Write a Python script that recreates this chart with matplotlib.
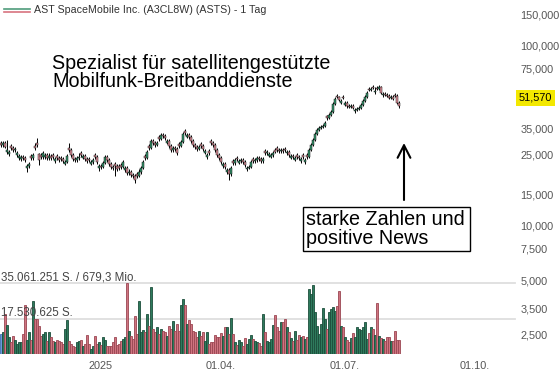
import matplotlib
matplotlib.use("Agg")
import matplotlib.pyplot as plt
import numpy as np
import pandas as pd
from matplotlib.patches import Rectangle, FancyArrowPatch, ArrowStyle
from matplotlib.transforms import blended_transform_factory
from matplotlib.ticker import NullLocator

plt.rcParams['font.family'] = ['Liberation Sans', 'DejaVu Sans']

# ---------------- data ----------------
title = "AST SpaceMobile Inc. (A3CL8W) (ASTS) - 1 Tag"
headline = "Spezialist für satellitengestützte\nMobilfunk-Breitbanddienste"
note = "starke Zahlen und\npositive News"

holidays = ['2024-11-28', '2024-12-25', '2025-01-01', '2025-01-09', '2025-01-20',
            '2025-02-17', '2025-04-18', '2025-05-26', '2025-06-19', '2025-07-04']
first_day = '2024-10-21'
x_tick_dates = ['2025-01-01', '2025-04-01', '2025-07-01', '2025-10-01']
x_tick_labels = ['2025', '01.04.', '01.07.', '01.10.']

price_ticks = [150, 100, 75, 35, 25, 15, 10, 7.5, 5, 3.5, 2.5]
last_price = 51.57

vol_max = 35.061251      # Mio. Stück
vol_half = 17.530625
vol_max_label = "35.061.251 S. / 679,3 Mio."
vol_half_label = "17.530.625 S."

opens = [
29.0, 28.2, 28.9, 25.7, 25.1, 27.9, 27.1, 26.4, 24.8, 24.0,
23.7, 24.2, 23.9, 21.0, 21.5, 24.6, 23.9, 27.9, 29.0, 25.0,
24.9, 24.2, 24.2, 24.8, 23.9, 24.5, 24.8, 23.0, 24.4, 23.9,
24.0, 23.5, 22.2, 22.7, 27.2, 26.4, 24.8, 23.5, 23.2, 23.9,
25.4, 24.0, 24.5, 23.5, 23.7, 22.2, 22.7, 24.8, 24.2, 21.0,
21.5, 21.3, 22.4, 24.2, 23.2, 22.1, 21.3, 22.0, 21.5, 21.5,
21.8, 21.3, 20.5, 21.0, 19.7, 20.0, 19.2, 19.0, 19.5, 19.0,
20.0, 21.0, 24.5, 23.9, 27.8, 27.1, 29.7, 28.9, 28.2, 31.3,
30.5, 32.1, 31.6, 29.0, 29.7, 27.8, 26.4, 27.1, 26.8, 28.6,
27.8, 29.3, 33.8, 31.3, 32.1, 31.2, 29.7, 28.2, 27.5, 26.8,
28.5, 27.8, 25.5, 24.2, 26.0, 29.7, 28.9, 28.2, 26.4, 24.8,
23.9, 21.6, 22.1, 20.0, 20.5, 19.5, 23.0, 22.4, 24.0, 22.5,
23.0, 23.2, 22.7, 20.6, 21.0, 21.3, 23.5, 23.0, 23.2, 23.9,
23.5, 23.0, 26.0, 25.4, 24.6, 24.3, 24.8, 26.3, 27.0, 26.4,
26.1, 26.4, 26.9, 25.3, 25.8, 24.0, 24.5, 23.4, 24.7, 24.2,
23.0, 24.7, 22.7, 24.8, 24.2, 26.4, 28.2, 30.1, 32.5, 34.2,
35.1, 35.5, 36.0, 40.6, 39.8, 41.4, 43.0, 47.6, 53.0, 52.1,
48.5, 52.4, 47.3, 48.2, 46.4, 45.8, 46.4, 43.4, 44.1, 44.7,
45.3, 47.0, 49.5, 52.1, 57.9, 56.9, 59.3, 55.3, 58.6, 57.7,
59.2, 53.3, 54.1, 53.4, 52.7, 51.4, 52.1, 53.5, 52.7, 48.2,
]
highs = [
29.8, 29.6, 29.5, 30.1, 26.5, 28.6, 27.8, 27.5, 26.1, 25.1,
24.8, 24.8, 24.5, 22.1, 22.7, 25.2, 25.5, 28.9, 30.8, 25.6,
25.5, 26.0, 25.4, 25.4, 25.6, 25.1, 25.4, 24.1, 25.0, 24.5,
24.6, 24.1, 23.3, 25.1, 28.9, 27.0, 25.4, 24.1, 24.5, 25.3,
26.2, 25.1, 25.1, 24.1, 24.3, 23.3, 23.8, 25.4, 24.8, 22.1,
22.0, 23.0, 24.8, 24.8, 23.8, 22.7, 21.9, 22.6, 22.0, 22.0,
22.4, 23.3, 21.6, 21.5, 20.6, 20.5, 19.7, 19.5, 20.0, 20.6,
21.6, 23.3, 25.2, 26.5, 28.5, 30.5, 30.4, 29.6, 29.7, 32.0,
33.0, 33.0, 32.4, 30.5, 30.4, 28.4, 27.8, 27.8, 27.4, 29.4,
30.1, 33.3, 34.8, 33.0, 32.9, 31.9, 30.4, 28.9, 28.2, 28.2,
29.2, 28.5, 26.8, 25.5, 26.7, 30.5, 29.6, 28.9, 27.0, 25.4,
24.5, 22.7, 22.7, 21.1, 21.0, 21.6, 23.6, 23.8, 24.6, 23.6,
23.9, 23.8, 23.3, 21.6, 21.9, 23.3, 24.1, 23.9, 24.5, 24.5,
24.1, 24.2, 26.7, 26.5, 25.8, 25.5, 26.1, 27.0, 27.7, 27.1,
27.1, 27.1, 27.6, 26.5, 26.4, 25.1, 25.1, 24.5, 25.3, 24.8,
24.1, 25.3, 23.8, 25.4, 27.0, 28.9, 30.8, 33.3, 35.0, 36.0,
36.4, 36.9, 38.3, 41.6, 42.4, 44.0, 48.7, 52.0, 54.2, 53.0,
50.6, 53.6, 49.3, 49.2, 47.5, 47.5, 47.5, 45.2, 45.8, 46.4,
48.1, 50.7, 53.3, 56.1, 59.2, 59.0, 60.6, 59.5, 59.9, 60.6,
60.2, 55.3, 55.3, 54.6, 53.9, 53.3, 53.3, 54.7, 53.9, 49.2,
]
lows = [
27.5, 27.6, 27.0, 25.2, 24.5, 26.4, 25.8, 25.8, 24.3, 23.4,
23.1, 23.3, 22.6, 20.0, 21.0, 23.3, 23.4, 26.5, 27.6, 21.8,
23.6, 23.7, 23.7, 23.3, 23.4, 23.3, 23.6, 22.5, 23.3, 22.7,
23.0, 22.5, 21.7, 22.3, 25.8, 24.3, 23.0, 22.6, 22.7, 23.4,
24.2, 23.5, 23.0, 22.5, 22.7, 21.7, 22.2, 23.6, 22.2, 20.3,
20.7, 20.9, 22.0, 22.7, 21.6, 20.8, 20.5, 19.0, 20.2, 20.5,
20.8, 20.9, 20.0, 19.2, 19.2, 18.7, 18.5, 17.4, 18.4, 18.6,
19.5, 20.6, 23.3, 23.5, 26.5, 26.7, 28.3, 27.6, 27.7, 29.8,
30.0, 31.0, 30.2, 28.4, 27.2, 25.8, 25.9, 26.2, 24.8, 27.1,
27.3, 28.8, 32.2, 30.7, 30.5, 29.0, 27.6, 26.9, 26.2, 26.3,
27.2, 26.2, 25.0, 23.7, 24.8, 28.2, 27.6, 25.8, 24.2, 23.3,
22.1, 21.1, 20.8, 19.5, 18.0, 19.0, 21.9, 21.9, 23.0, 22.0,
22.5, 22.2, 21.3, 20.1, 20.6, 20.9, 22.5, 22.5, 22.7, 23.0,
22.5, 22.5, 24.8, 24.8, 24.1, 23.8, 24.3, 25.3, 25.9, 25.6,
25.6, 25.6, 25.9, 24.8, 24.3, 23.5, 23.7, 22.9, 23.7, 23.4,
22.5, 23.7, 22.2, 23.5, 23.8, 26.0, 27.8, 29.6, 32.0, 33.6,
34.5, 35.0, 35.4, 39.0, 39.2, 40.8, 42.5, 47.0, 51.2, 49.2,
47.6, 50.5, 46.4, 45.5, 45.0, 45.0, 44.5, 42.6, 43.4, 44.0,
44.6, 46.4, 48.8, 51.4, 55.9, 56.0, 57.4, 54.4, 56.7, 56.8,
53.9, 52.4, 52.5, 51.8, 50.5, 50.6, 49.9, 51.8, 47.4, 45.4,
]
closes = [
28.2, 28.9, 27.5, 26.4, 25.8, 27.1, 26.4, 26.8, 25.4, 24.5,
24.2, 23.9, 23.2, 21.5, 22.1, 23.9, 24.8, 27.1, 28.2, 23.2,
24.2, 25.4, 24.8, 23.9, 24.5, 23.9, 24.2, 23.5, 23.9, 23.2,
23.5, 23.0, 22.7, 24.5, 26.4, 24.8, 23.5, 23.2, 23.9, 24.2,
24.8, 24.5, 23.5, 23.0, 23.2, 22.7, 23.2, 24.2, 22.7, 21.5,
21.3, 22.4, 24.2, 23.2, 22.1, 21.3, 21.0, 21.5, 20.7, 21.0,
21.3, 22.7, 21.0, 19.7, 20.0, 19.2, 19.0, 18.0, 19.0, 20.0,
21.0, 22.7, 23.9, 25.8, 27.1, 29.7, 28.9, 28.2, 28.9, 30.5,
32.1, 31.6, 30.8, 29.7, 27.8, 26.4, 27.1, 26.8, 25.4, 27.8,
29.3, 32.5, 32.9, 32.1, 31.2, 29.7, 28.2, 27.5, 26.8, 27.5,
27.8, 26.8, 26.1, 24.8, 25.4, 28.9, 28.2, 26.4, 24.8, 23.9,
22.7, 22.1, 21.3, 20.5, 19.5, 21.0, 22.4, 23.2, 23.5, 23.0,
23.2, 22.7, 21.8, 21.0, 21.3, 22.7, 23.0, 23.2, 23.9, 23.5,
23.0, 23.5, 25.4, 25.8, 25.1, 24.8, 25.4, 25.8, 26.4, 26.1,
26.4, 26.1, 26.4, 25.8, 24.8, 24.5, 24.2, 23.9, 24.2, 23.9,
23.5, 24.2, 23.2, 24.2, 26.4, 28.2, 30.1, 32.5, 34.2, 35.1,
35.5, 36.0, 37.4, 39.8, 41.4, 43.0, 47.6, 50.8, 52.1, 50.1,
49.5, 51.4, 48.2, 46.4, 45.8, 46.4, 45.3, 44.1, 44.7, 45.3,
47.0, 49.5, 52.1, 54.8, 56.9, 57.7, 58.4, 56.2, 57.7, 59.2,
54.8, 54.1, 53.4, 52.7, 51.4, 52.1, 50.8, 52.7, 48.2, 46.4,
]
volumes = [  # Mio. Stück
10, 10.7, 19.8, 14.3, 8.6, 5.8, 9, 7, 5, 6,
6, 9.9, 24, 7, 10.7, 7, 26.4, 17.3, 17.3, 14,
9, 10, 10.7, 6.6, 10.7, 8.2, 6.6, 5.8, 7, 6.6,
5.8, 5, 12.4, 17, 6.6, 5, 4, 3.3, 6, 6.6,
7, 4, 5, 9.6, 5, 2.5, 4, 9, 5, 5.8,
4.5, 8.2, 7, 4, 4, 4, 5.8, 8.6, 4.6, 5,
6.6, 7.4, 8.2, 35.06, 11.5, 9, 7.4, 19, 10, 26.4,
10.7, 11.9, 10.7, 19.8, 14, 33, 12.4, 10.7, 13.5, 10,
12.4, 11.5, 10.7, 9, 14, 12.4, 16.5, 11.5, 14.8, 11.5,
24, 27, 24, 14.8, 16.8, 15, 11.5, 10.7, 8.2, 11.5,
9, 10.7, 6.6, 10.7, 5, 5.8, 5.8, 9.6, 8.6, 8.6,
10.2, 9.0, 13.2, 13.2, 9.9, 17.8, 9.9, 5.8, 4.6, 7,
6, 4, 7.9, 5, 7.4, 9.6, 7.4, 6.5, 6, 5.3,
4, 19.8, 10.7, 6.6, 5.8, 7.4, 14.5, 19.4, 13.5, 11.5,
15.6, 16.0, 17.3, 13.5, 10.7, 7.9, 6.3, 11.2, 6.9, 9.6,
8.5, 9, 7.4, 8.2, 32, 29.6, 34.2, 20.9, 14, 9.9,
15, 22.5, 17.3, 12.4, 20.9, 22, 23, 21, 23.9, 31.3,
14, 13.2, 8.2, 7.0, 5.8, 7.9, 10.2, 8.2, 13.2, 12.5,
11.9, 13.5, 15.6, 7.4, 10.5, 13.5, 12.4, 9.6, 25, 9,
7.9, 7.4, 6.3, 8.6, 8.6, 6.3, 6.3, 11.5, 6.9, 6.9,
]
vol_dirs = (
"BGPGGPPGGG" "GPPGGPGPPP" "PGGPGPPGPP" "PPGGPPPPGG" "PGPPPGGPPG"
"PGGPPPPPPP" "PGGPGPPPPG" "GGPGPGPPGP" "GPPGPPGPPP" "GGPGPPPPPG"
"PPGGPPPPPP" "PGPGPGPGPG" "GPPGGGPGGP" "PGPGGGGPPP" "GPPGPGPGPP"
"GPGPGGGGGG" "GGGPGGGGPP" "GPGPPGPGGG" "GGGGPGPGPG" "PGPPPGPPPP"
)

# ---------------- colours ----------------
C_UP = '#33936a'
C_DN = '#e3929c'
V_UP, V_UP_E = '#2e7a5c', '#1c4e3b'
V_DN, V_DN_E = '#cf7480', '#9a4652'
V_SEL, V_SEL_E = '#6b98dc', '#3f6cb0'
TXT = '#555555'

# ---------------- figure ----------------
W, H = 559, 374
fig = plt.figure(figsize=(W / 100, H / 100), dpi=100)
fig.patch.set_facecolor('white')


def px_axes(x0, y0, x1, y1):
    return fig.add_axes([x0 / W, 1 - y1 / H, (x1 - x0) / W, (y1 - y0) / H])


calendar = pd.bdate_range(first_day, '2025-12-31', freq='C', holidays=holidays)
tick_pos = calendar.searchsorted(pd.to_datetime(x_tick_dates))
x = np.arange(len(closes))
o = np.array(opens); c = np.array(closes)
hi = np.array(highs); lo = np.array(lows)

# volume pane
axv = px_axes(0, 283, 515, 354)
axv.set_facecolor('none')
vcol = [{'G': V_UP, 'P': V_DN, 'B': V_SEL}[d] for d in vol_dirs]
vedge = [{'G': V_UP_E, 'P': V_DN_E, 'B': V_SEL_E}[d] for d in vol_dirs]
axv.bar(x, volumes, width=0.86, color=vcol, edgecolor=vedge, linewidth=0.6, zorder=3)
axv.set_ylim(0, vol_max)
axv.set_xlim(-0.5, 257)
for lvl in (vol_max, vol_half):
    axv.axhline(lvl, color='#dedede', lw=1.3, zorder=1, clip_on=False)
bt = blended_transform_factory(axv.transAxes, axv.transData)
axv.text(0.001, vol_max, vol_max_label, transform=bt, ha='left', va='bottom',
         fontsize=8.3, color='#444444', zorder=5)
axv.text(0.001, vol_half, vol_half_label, transform=bt, ha='left', va='bottom',
         fontsize=8.3, color='#444444', zorder=5)
axv.set_yticks([])
axv.set_xticks(tick_pos, x_tick_labels)
axv.tick_params(axis='x', length=0, pad=5, labelsize=7.8, labelcolor=TXT)
for s in axv.spines.values():
    s.set_visible(False)

# price pane
ax = px_axes(0, 0, 515, 355)
ax.set_facecolor('none')
ax.set_yscale('log')
ax.set_ylim(1.92, 180.1)
ax.set_xlim(-0.5, 257)
up = c >= o
ax.vlines(x, lo, hi, color='black', lw=0.7, zorder=2)
ax.bar(x, np.abs(c - o), bottom=np.minimum(o, c), width=1.15,
       color=np.where(up, C_UP, C_DN), edgecolor='#111111', linewidth=0.35, zorder=3)
ax.yaxis.tick_right()
ax.set_yticks(price_ticks, [f"{v:.3f}".replace('.', ',') for v in price_ticks])
ax.yaxis.set_minor_locator(NullLocator())
ax.tick_params(axis='y', length=0, pad=4, labelsize=7.8, labelcolor=TXT)
ax.set_xticks([])
for s in ax.spines.values():
    s.set_visible(False)
bt2 = blended_transform_factory(ax.transAxes, ax.transData)
ax.text(1 + 4 / 515, last_price, f"{last_price:.3f}".replace('.', ','), transform=bt2,
        ha='left', va='center', fontsize=7.8, color='black',
        bbox=dict(boxstyle='square,pad=0.28', facecolor='#f3e800', edgecolor='none'),
        clip_on=False, zorder=6)

# header
fig.add_artist(plt.Line2D([4 / W, 30 / W], [1 - 9 / H, 1 - 9 / H], color='#4f9c7c', lw=1.2))
fig.add_artist(plt.Line2D([4 / W, 30 / W], [1 - 11.5 / H, 1 - 11.5 / H], color='#d8737f', lw=1.2))
fig.text(34 / W, 1 - 10 / H, title, ha='left', va='center', fontsize=7.7, color='#333333')

# annotations
fig.text(52 / W, 1 - 87 / H, headline, ha='left', va='baseline', fontsize=14.2,
         color='black', linespacing=0.95)
fig.add_artist(Rectangle((303 / W, 1 - 251 / H), 167 / W, 44 / H, transform=fig.transFigure,
                         facecolor='white', edgecolor='black', lw=1.0))
fig.text(306 / W, 1 - 229 / H, note, ha='left', va='center', fontsize=14.2,
         color='black', linespacing=0.95)
fig.add_artist(FancyArrowPatch((404 / W, 1 - 200 / H), (404 / W, 1 - 143 / H),
                               transform=fig.transFigure,
                               arrowstyle=ArrowStyle('->', head_length=9, head_width=4.6),
                               mutation_scale=1, lw=1.5, color='black',
                               shrinkA=0, shrinkB=0))

fig.savefig('out.png', dpi=100)
